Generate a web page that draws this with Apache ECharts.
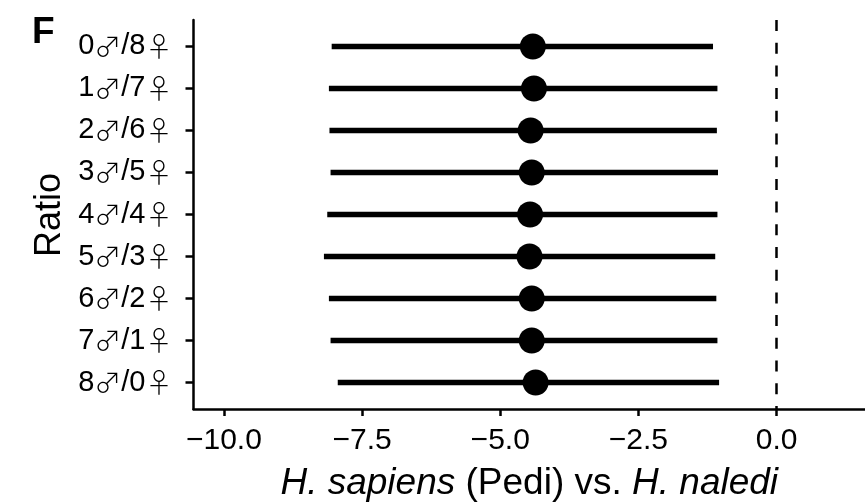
<!DOCTYPE html>
<html>
<head>
<meta charset="utf-8">
<script src="https://cdn.jsdelivr.net/npm/echarts@6/dist/echarts.min.js"></script>
<style>
html,body{margin:0;padding:0;background:#fff;}
#chart{width:865px;height:502px;}
</style>
</head>
<body>
<div id="chart"></div>
<script>
// ---- data ----
const ratios = ['0♂/8♀','1♂/7♀','2♂/6♀','3♂/5♀','4♂/4♀','5♂/3♀','6♂/2♀','7♂/1♀','8♂/0♀'];
const estimate = [-4.41, -4.39, -4.45, -4.43, -4.46, -4.47, -4.43, -4.43, -4.36];
const lower    = [-8.05, -8.10, -8.09, -8.07, -8.13, -8.19, -8.10, -8.07, -7.94];
const upper    = [-1.15, -1.07, -1.08, -1.06, -1.07, -1.11, -1.09, -1.07, -1.04];
const xTicks = [-10, -7.5, -5, -2.5, 0];
const refLine = 0;

const FONT = '"Liberation Sans", Arial, Helvetica, sans-serif';
const SYM = '"Noto Sans CJK JP", "DejaVu Sans", sans-serif';
const rowIdx = ratios.map((_, i) => i);

function richRatio(s) {
  return s.replace(/([♂♀])/g, '{s|$1}');
}

const chart = echarts.init(document.getElementById('chart'), null, {renderer: 'canvas'});
chart.setOption({
  animation: false,
  backgroundColor: '#fff',
  textStyle: {fontFamily: FONT, color: '#000'},
  graphic: [
    {type: 'text', left: 32, top: 14,
     style: {text: 'F', font: 'bold 37px ' + FONT, fill: '#000'}},
    {type: 'text', x: 50, y: 215, rotation: Math.PI / 2,
     style: {text: 'Ratio', font: '36px ' + FONT, fill: '#000', align: 'center', verticalAlign: 'middle'}}
  ],
  grid: {left: 193.5, right: 0, top: 20, bottom: 93, containLabel: false, outerBoundsMode: 'none'},
  xAxis: {
    type: 'value', min: -10.55, max: 1.6,
    splitLine: {show: false},
    axisLine: {show: true, onZero: false, lineStyle: {color: '#000', width: 2.5}},
    axisTick: {show: true, length: 7, lineStyle: {color: '#000', width: 2.5}, customValues: xTicks},
    axisLabel: {
      customValues: xTicks, margin: 17, fontSize: 30, color: '#000', fontFamily: FONT,
      formatter: v => (v < 0 ? '\u2212' : '') + Math.abs(v).toFixed(1)
    },
    name: '{i|H. sapiens} (Pedi) vs. {i|H. naledi}',
    nameLocation: 'middle', nameGap: 56,
    nameTextStyle: {fontSize: 37, color: '#000', fontFamily: FONT,
      rich: {i: {fontSize: 37, fontStyle: 'italic', fontFamily: FONT, color: '#000'}}}
  },
  yAxis: {
    type: 'value', inverse: true, min: -0.63, max: 8.63,
    splitLine: {show: false},
    axisLine: {show: true, onZero: false, lineStyle: {color: '#000', width: 2.5}},
    axisTick: {show: true, length: 8, lineStyle: {color: '#000', width: 2.5}, customValues: rowIdx},
    axisLabel: {
      customValues: rowIdx, margin: 21, fontSize: 29, color: '#000', fontFamily: FONT,
      formatter: v => richRatio(ratios[Math.round(v)]),
      rich: {s: {fontSize: 27, fontFamily: SYM, fontWeight: 300, color: '#000'}}
    }
  },
  series: [
    {
      type: 'custom',
      data: rowIdx.map(i => [lower[i], upper[i], i]),
      encode: {x: [0, 1], y: 2},
      renderItem: (params, api) => {
        const a = api.coord([api.value(0), api.value(2)]);
        const b = api.coord([api.value(1), api.value(2)]);
        return {type: 'line', shape: {x1: a[0], y1: a[1], x2: b[0], y2: b[1]},
          style: {stroke: '#000', lineWidth: 5.5}};
      },
      z: 2
    },
    {
      type: 'scatter',
      data: rowIdx.map(i => [estimate[i], i]),
      symbol: 'circle', symbolSize: 26,
      itemStyle: {color: '#000', opacity: 1},
      z: 3,
      markLine: {
        silent: true, symbol: 'none', label: {show: false},
        lineStyle: {color: '#000', width: 2.5, type: [11, 11.7], opacity: 1},
        data: [{xAxis: refLine}]
      }
    }
  ]
});
</script>
</body>
</html>
